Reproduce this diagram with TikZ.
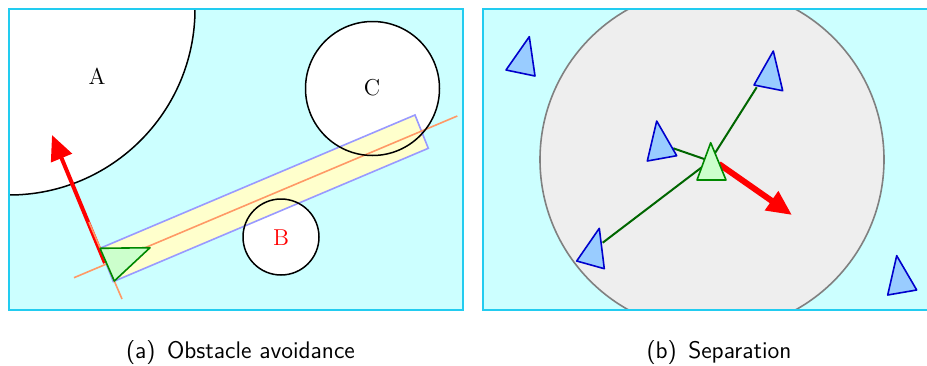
\documentclass[tikz,border=0pt]{standalone}
\usetikzlibrary{arrows.meta}

\definecolor{skyfill}{HTML}{CCFFFF}
\definecolor{skyedge}{HTML}{22CCF0}
\definecolor{zonefill}{HTML}{EEEEEE}
\definecolor{zoneedge}{HTML}{808080}
\definecolor{boidfill}{HTML}{99CCFF}
\definecolor{boidedge}{HTML}{0000CC}
\definecolor{selffill}{HTML}{CCFFCC}
\definecolor{selfedge}{HTML}{008800}
\definecolor{linkgreen}{HTML}{006600}
\definecolor{probefill}{HTML}{FFFFCC}
\definecolor{probeedge}{HTML}{9999FF}
\definecolor{rayorange}{HTML}{FF9966}

\tikzset{
  obstacle/.style={draw=black, line width=0.75pt},
  boid/.style={fill=boidfill, draw=boidedge, line width=0.8pt, line join=round},
  self/.style={fill=selffill, draw=selfedge, line width=0.8pt, line join=round},
  steer/.style={red, -{Triangle[length=12.5pt,width=11pt]}},
  ray/.style={rayorange, line width=0.8pt},
  caption/.style={anchor=base, inner sep=0pt,
    font=\sffamily\fontsize{12}{14}\selectfont},
  obslabel/.style={font=\fontsize{11.5}{13}\selectfont}
}

\begin{document}
\begin{tikzpicture}[x=0.5pt, y=-0.5pt]
  \useasboundingbox (0,0) rectangle (927,365);

  % ---- (a) obstacle avoidance ----
  \fill[skyfill] (9,9) rectangle (463,310);
  \begin{scope}
    \clip (9,9) rectangle (463,310);
    \fill[white] (9,9) circle (186);
    \draw[obstacle] (9,9) circle (186);
  \end{scope}
  \draw[skyedge, line width=1pt] (9,9) rectangle (463,310);

  % obstacles (white first, outlines after the probe)
  \coordinate (obsB) at (281,237);
  \coordinate (obsC) at (372.5,88.5);
  \fill[white] (obsC) circle (67);
  \fill[white] (obsB) circle (38);

  % probe box in front of the boid
  \coordinate (P1) at (100,248.3);
  \coordinate (P2) at (415,115);
  \coordinate (P3) at (428.3,148.3);
  \coordinate (P4) at (113.3,281.6);
  \draw[fill=probefill, draw=probeedge, line width=0.8pt]
    (P1) -- (P2) -- (P3) -- (P4) -- cycle;

  % heading ray
  \coordinate (rayS) at (74,277.7);
  \coordinate (rayE) at (457.3,116);
  \draw[ray] (rayS) -- (rayE);

  \draw[obstacle] (obsC) circle (67);
  \draw[obstacle] (obsB) circle (38);
  \node[obslabel] (labA) at (97,76) {A};
  \node[obslabel] (labC) at (372,88) {C};
  \node[obslabel, red] (labB) at (281,238) {B};

  % steering force away from A, and the normal
  \coordinate (pushS) at (105,263);
  \coordinate (pushE) at (52,135);
  \coordinate (normS) at (89,222);
  \coordinate (normE) at (122,299);
  \draw[steer, line width=2pt] (pushS) -- (pushE);
  \draw[ray] (normS) -- (normE);

  % the boid
  \draw[self] (100,248.3) -- (150,247.7) -- (114.3,281) -- cycle;

  % ---- (b) separation ----
  \fill[skyfill] (483,9) rectangle (929,310);
  \begin{scope}
    \clip (483,9) rectangle (929,310);
    \draw[fill=zonefill, draw=zoneedge, line width=0.8pt]
      (712,159.5) circle (172);
  \end{scope}
  \draw[skyedge, line width=1pt] (483,9) rectangle (929,310);

  % links to the near neighbours
  \coordinate (hub) at (710,161);
  \coordinate (nbA) at (756.7,87.3);
  \coordinate (nbB) at (673.3,148.3);
  \coordinate (nbC) at (602.7,242.7);
  \foreach \n in {nbA,nbB,nbC}
    \draw[linkgreen, line width=1pt] (hub) -- (\n);

  % neighbour boids
  \foreach \ax/\ay/\bx/\by/\cx/\cy in {506/70/529.3/36.7/535/76,
                                      754/85/773.3/51/782.7/90.7,
                                      647.3/161/656.7/121/676.7/155.7,
                                      576.7/261/599.3/228.3/604.3/268.7,
                                      887.7/295/896.7/255.7/916.7/290}
    \draw[boid] (\ax,\ay) -- (\bx,\by) -- (\cx,\cy) -- cycle;

  % separation force
  \coordinate (sepS) at (719,164);
  \coordinate (sepE) at (792,215);
  \draw[steer, line width=3pt] (sepS) -- (sepE);

  % the boid
  \draw[self] (697,180) -- (710.7,142.7) -- (726,180) -- cycle;

  % captions
  \node[caption] (capA) at (240.5,358) {(a)\hspace{0.15em} Obstacle avoidance};
  \node[caption] (capB) at (719,358) {(b)\hspace{0.15em} Separation};
\end{tikzpicture}
\end{document}
